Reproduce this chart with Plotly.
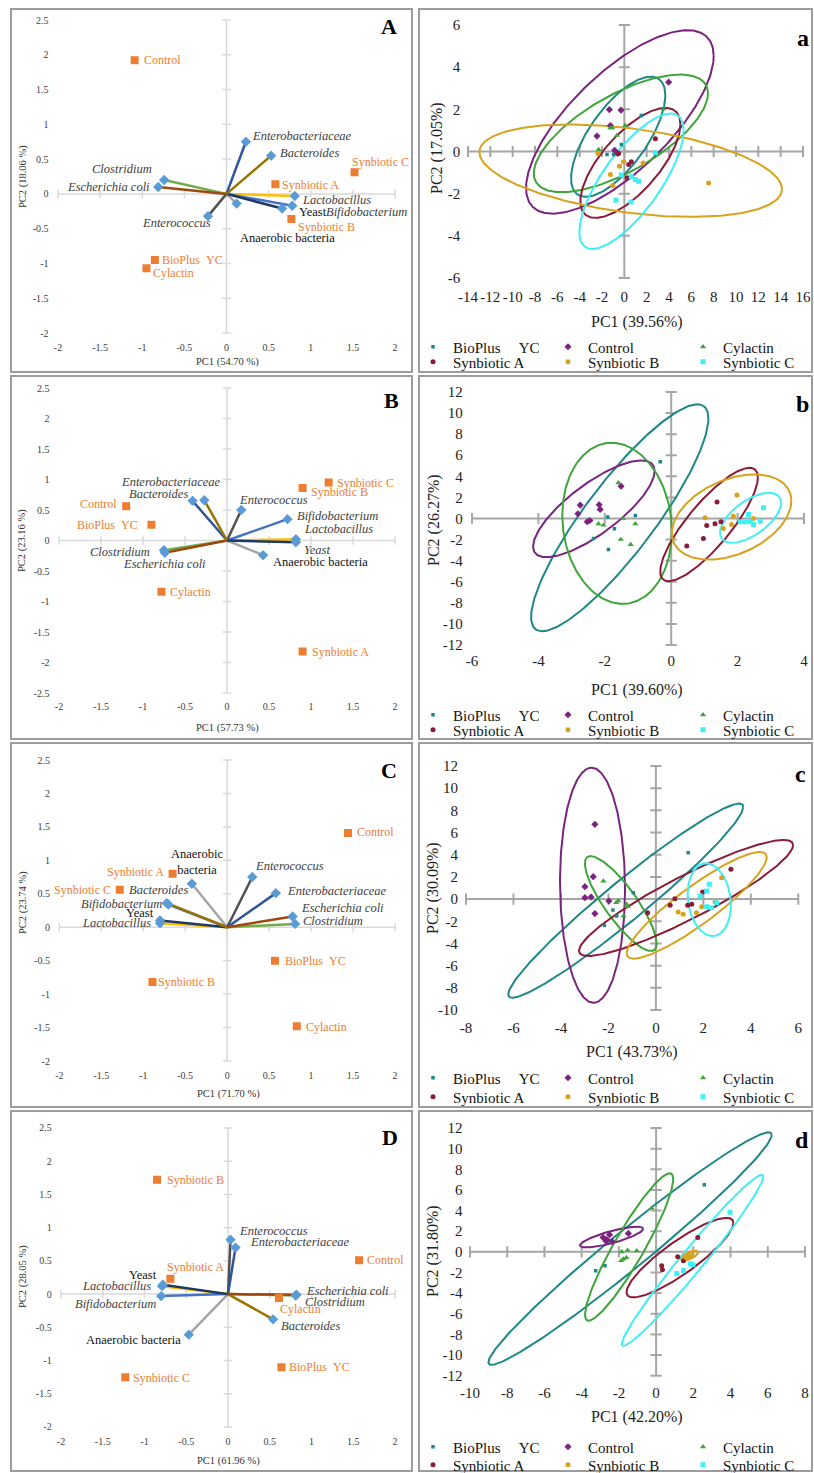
import numpy as np
import plotly.graph_objects as go

FONT = "Liberation Serif"
FIG_W, FIG_H = 814, 1473

# ------------------------------------------------------------------ data
TREATMENTS = ["BioPlus YC", "Control", "Cylactin", "Synbiotic A", "Synbiotic B", "Synbiotic C"]
VARIABLES = ["Anaerobic bacteria", "Lactobacillus", "Bifidobacterium", "Enterococcus", "Yeast",
             "Enterobacteriaceae", "Bacteroides", "Clostridium", "Escherichia coli"]

# Biplot A
A_LOAD_X = [0.12, 0.81, 0.78, -0.22, 0.66, 0.23, 0.53, -0.74, -0.81]
A_LOAD_Y = [-0.14, -0.03, -0.17, -0.32, -0.21, 0.75, 0.55, 0.20, 0.10]
A_SCORE_X = [-0.85, -1.09, -0.95, 0.58, 0.77, 1.52]
A_SCORE_Y = [-0.95, 1.92, -1.07, 0.14, -0.36, 0.31]
# Biplot B
B_LOAD_X = [0.43, 0.82, 0.72, 0.17, 0.82, -0.41, -0.27, -0.75, -0.74]
B_LOAD_Y = [-0.24, 0.02, 0.35, 0.50, -0.03, 0.65, 0.66, -0.16, -0.20]
B_SCORE_X = [-0.90, -1.20, -0.78, 0.90, 0.90, 1.21]
B_SCORE_Y = [0.26, 0.56, -0.84, -1.82, 0.86, 0.95]
# Biplot C
C_LOAD_X = [-0.42, -0.80, -0.70, 0.30, -0.80, 0.58, -0.72, 0.81, 0.78]
C_LOAD_Y = [0.65, 0.06, 0.34, 0.75, 0.10, 0.51, 0.36, 0.05, 0.16]
C_SCORE_X = [0.57, 1.44, 0.83, -0.65, -0.89, -1.28]
C_SCORE_Y = [-0.50, 1.41, -1.48, 0.80, -0.82, 0.56]
# Biplot D
D_LOAD_X = [-0.47, -0.79, -0.80, 0.03, -0.78, 0.09, 0.54, 0.81, 0.82]
D_LOAD_Y = [-0.61, 0.12, -0.03, 0.82, 0.14, 0.70, -0.38, -0.02, -0.01]
D_SCORE_X = [0.64, 1.57, 0.61, -0.69, -0.85, -1.23]
D_SCORE_Y = [-1.10, 0.51, -0.06, 0.23, 1.72, -1.25]

LEFT_PC1 = ["54.70", "57.73", "71.70", "61.96"]
LEFT_PC2 = ["18.06", "23.16", "23.74", "28.05"]
RIGHT_PC1 = ["39.56", "39.60", "43.73", "42.20"]
RIGHT_PC2 = ["17.05", "26.27", "30.09", "31.80"]

LEFT_XTICKS = [-2, -1.5, -1, -0.5, 0, 0.5, 1, 1.5, 2]
A_YTICKS = [-2, -1.5, -1, -0.5, 0, 0.5, 1, 1.5, 2, 2.5]
B_YTICKS = [-2.5, -2, -1.5, -1, -0.5, 0, 0.5, 1, 1.5, 2, 2.5]
C_YTICKS = [-2, -1.5, -1, -0.5, 0, 0.5, 1, 1.5, 2, 2.5]
D_YTICKS = [-2, -1.5, -1, -0.5, 0, 0.5, 1, 1.5, 2, 2.5]

# Score plot a
a_X = [[-0.27, -0.96, -1.55, 1.52, -0.39],
       [-1.34, -0.30, -1.25, -2.45, -0.87, -0.60, 3.97],
       [-1.25, -1.10, 0.09, -0.66, -2.30, 3.52],
       [-0.51, 0.63, 0.24, 2.78, 0.39],
       [-2.36, -0.45, -0.06, -1.25, -1.04, 1.67, 7.55],
       [2.78, -0.27, 0.63, 0.99, 1.28, -0.75, 0.60]]
a_Y = [[0.33, -0.14, -0.14, 1.71, -0.70],
       [1.99, 1.96, 1.23, 0.73, 0.06, -0.09, 3.29],
       [1.12, 1.12, 1.23, 0.76, 0.09, 2.02],
       [-0.09, -0.49, -1.25, 0.60, -0.62],
       [-0.09, -0.70, -0.49, -1.09, -1.61, -0.54, -1.49],
       [-0.06, -1.12, -1.20, -1.33, -1.41, -2.31, -2.40]]
a_ELL_CX = [-0.55, -0.40, -0.31, 0.54, 0.57, 0.64]
a_ELL_CY = [0.70, 1.40, 0.86, -0.54, -0.91, -1.41]
a_ELL_W = [4.22, 8.40, 7.80, 4.48, 13.55, 4.67]
a_ELL_H = [2.85, 4.35, 2.79, 2.61, 2.19, 3.21]
a_ELL_R = [0.69, 0.72, 0.68, 0.70, -0.40, 0.75]
a_XTICKS = [-14, -12, -10, -8, -6, -4, -2, 0, 2, 4, 6, 8, 10, 12, 14, 16]
a_YTICKS = [-6, -4, -2, 0, 2, 4, 6]

# Score plot b
b_X = [[-0.33, -1.91, -1.08, -1.71, -2.34, -1.89],
       [-2.74, -2.81, -2.53, -2.45, -2.17, -2.14, -1.51],
       [-2.19, -2.04, -1.59, -1.45, -1.08, -1.52, -1.22],
       [1.38, 1.07, 1.32, 1.50, 0.97, 0.47],
       [1.98, 1.02, 1.87, 1.82, 1.57, 2.48],
       [2.78, 2.33, 2.23, 2.48, 2.38, 2.68, 2.08]]
b_Y = [[5.38, 0.13, 0.29, -0.98, -1.90, -2.94],
       [1.27, 0.45, -0.31, -0.19, 1.30, 0.86, 3.07],
       [-0.50, -0.63, 3.39, 0.00, -0.50, -1.99, -2.47],
       [1.56, -0.66, -0.51, -0.32, -1.90, -2.62],
       [2.22, 0.06, 0.22, -0.57, -0.95, 0.00],
       [1.02, 0.38, -0.31, -0.57, -0.31, -0.25, -0.31]]
b_ELL_CX = [-1.55, -2.33, -1.63, 1.14, 1.82, 2.39]
b_ELL_CY = [0.07, 0.92, -0.46, -0.57, 0.14, 0.07]
b_ELL_W = [2.67, 1.83, 1.65, 1.47, 1.80, 0.92]
b_ELL_H = [10.76, 4.59, 7.64, 5.38, 4.04, 2.37]
b_ELL_R = [0.875, 0.78, -0.10, 0.83, 0.38, 0.60]
b_XTICKS = [-6, -4, -2, 0, 2, 4]
b_YTICKS = [-12, -10, -8, -6, -4, -2, 0, 2, 4, 6, 8, 10, 12]

# Score plot c
c_X = [[1.36, -0.95, -1.81, -2.17, -1.65],
       [-2.57, -2.64, -2.99, -2.99, -2.73, -1.98, -2.57],
       [-2.21, -1.58, -1.67, -1.19, -1.23, -1.36],
       [3.16, 1.97, 0.80, 0.60, 1.34, 1.51, -0.35],
       [2.77, 0.94, 1.15, 1.71, 1.93, 2.49],
       [2.25, 1.86, 2.14, 2.14, 2.35, 2.56]]
c_Y = [[4.18, 0.58, -0.98, -2.36, -1.52],
       [6.74, 2.02, 1.12, 0.13, 0.19, -0.17, -1.31],
       [1.63, -0.17, -0.32, -0.68, -0.47, -1.52],
       [2.69, 0.64, 0.04, -0.56, -0.56, -0.47, -1.22],
       [1.93, -1.16, -1.37, -1.22, -0.68, -0.26],
       [1.33, 0.28, 0.73, -0.68, -0.77, -0.32]]
c_ELL_CX = [-1.27, -2.67, -1.48, 1.27, 1.72, 2.25]
c_ELL_CY = [-0.14, 1.25, -0.40, 0.10, -0.56, -0.05]
c_ELL_W = [4.95, 1.37, 1.51, 4.51, 2.95, 0.91]
c_ELL_H = [8.75, 10.60, 4.28, 5.23, 4.81, 3.28]
c_ELL_R = [0.965, -0.03, -0.84, 0.91, 0.90, -0.15]
c_XTICKS = [-8, -6, -4, -2, 0, 2, 4, 6]
c_YTICKS = [-10, -8, -6, -4, -2, 0, 2, 4, 6, 8, 10, 12]

# Score plot d
d_X = [[2.59, -3.25, -2.75],
       [-2.85, -2.65, -2.50, -2.35, -1.49, -2.70],
       [-0.24, -1.85, -1.53, -1.04, -1.76, -1.88, -1.60],
       [2.24, 0.30, 0.34, 1.16, 1.47],
       [1.55, 1.73, 1.94, 1.64, 1.87],
       [3.97, 1.84, 1.47, 1.11, 1.98]]
d_Y = [[6.50, -1.83, -1.35],
       [1.40, 1.20, 1.66, 0.98, 1.79, 1.05],
       [4.24, 0.00, 0.16, 0.10, -0.70, -0.86, -0.55],
       [1.40, -1.35, -1.73, -0.47, -0.86],
       [-0.37, -0.27, -0.05, -0.60, -0.47],
       [3.83, -1.18, -1.80, -2.09, -1.25]]
d_ELL_CX = [-1.40, -2.39, -1.45, 1.28, 1.80, 1.96]
d_ELL_CY = [0.32, 1.43, 0.47, -0.56, -0.38, -0.82]
d_ELL_W = [7.61, 1.70, 2.37, 2.87, 0.46, 3.80]
d_ELL_H = [11.26, 1.00, 7.14, 3.85, 0.48, 8.29]
d_ELL_R = [0.978, 0.80, 0.92, 0.87, 0.70, 0.978]
d_XTICKS = [-10, -8, -6, -4, -2, 0, 2, 4, 6, 8]
d_YTICKS = [-12, -10, -8, -6, -4, -2, 0, 2, 4, 6, 8, 10, 12]

# ------------------------------------------------------------------ styles
VAR_COLORS = ["#A5A5A5", "#FFC000", "#4472C4", "#505050", "#203864",
              "#2F5597", "#997300", "#70AD47", "#9E480E"]
LOAD_MARKER = "#5B9BD5"
SCORE_COLOR = "#ED7D31"
GROUP_COLORS = ["#1E8787", "#7A237F", "#3DA53A", "#8B1B36", "#D7A21E", "#3EEFF4"]
GROUP_SYMBOLS = ["square", "diamond", "triangle-up", "circle", "circle", "square"]
GROUP_SIZES = [3.5, 5.5, 5.5, 5, 5, 5]
LEFT_NAMES = ["BioPlus\u00a0\u00a0YC", "Control", "Cylactin", "Synbiotic A", "Synbiotic B", "Synbiotic C"]
LEGEND_NAMES = ["BioPlus\u00a0\u00a0\u00a0\u00a0 YC", "Control", "Cylactin",
                "Synbiotic A", "Synbiotic B", "Synbiotic C"]

# label placement (anchor, x-shift px, y-shift px) in VARIABLES / TREATMENTS order
A_LOAD_POS = [("left", 1, -34), ("left", 5, -4), ("left", 32, -6), ("center", -31, -7), ("left", 15, -4),
              ("left", 4, 6), ("left", 7, 3), ("right", -10, 11), ("right", -6, 0)]
A_SCORE_POS = [("left", 5, 0), ("left", 7, 0), ("left", 5, -5), ("left", 5, -1), ("left", 5, -8), ("left", -5, 10)]
B_LOAD_POS = [("left", 8, -7), ("left", 6, 10), ("left", 8, 3), ("left", -4, 10), ("left", 6, -8),
              ("center", -22, 19), ("right", -14, 6), ("right", -12, -2), ("center", 0, -11)]
B_SCORE_POS = [("right", -11, 0), ("right", -7, 2), ("left", 7, 0), ("left", 7, 0), ("left", 6, -4), ("left", 6, 0)]
C_LOAD_POS = [("center", 6, 22), ("right", -7, 0), ("right", -4, 0), ("left", 1, 11), ("center", -20, 8),
              ("left", 9, 2), ("left", -40, 13), ("left", 6, 3), ("left", 6, 9)]
C_SCORE_POS = [("left", 8, 0), ("left", 7, 1), ("left", 7, -1), ("right", -7, 2), ("left", 4, 0), ("right", -7, 0)]
D_LOAD_POS = [("right", -6, -5), ("right", -9, 0), ("right", -3, -8), ("left", 6, 9), ("center", -20, 10),
              ("left", 12, 6), ("left", 6, -7), ("left", 7, -7), ("left", 8, 4)]
D_SCORE_POS = [("left", 6, 0), ("left", 6, 0), ("left", -1, -11), ("left", -5, 12), ("left", 8, 0), ("left", 6, -1)]

T = np.linspace(0, 2 * np.pi, 241)


def ellipse_xy(cx, cy, w, h, r):
    ex = cx + w * np.cos(T)
    ey = cy + r * h * np.cos(T) + h * np.sqrt(1 - r * r) * np.sin(T)
    return ex, ey


def fmt(v):
    return f"{v:g}"


def sx(n):
    return "" if n == 1 else str(n)


def dom_x(rng, v0, p0, v1, p1):
    s = (p1 - p0) / (v1 - v0)
    return [(p0 + (rng[0] - v0) * s) / FIG_W, (p0 + (rng[1] - v0) * s) / FIG_W]


def dom_y(rng, v0, p0, v1, p1):
    s = (p1 - p0) / (v1 - v0)
    return [1 - (p0 + (rng[0] - v0) * s) / FIG_H, 1 - (p0 + (rng[1] - v0) * s) / FIG_H]


def px(x):
    return x / FIG_W


def py(y):
    return 1 - y / FIG_H


fig = go.Figure()
annotations = []
shapes = []
layout = {}


def add_axes(n, xt, yt, color, width, ticksize):
    xa, ya = "x" + sx(n), "y" + sx(n)
    fig.add_trace(go.Scatter(x=[xt[0], xt[-1]], y=[0, 0], mode="lines", line=dict(color=color, width=width),
                             xaxis=xa, yaxis=ya, showlegend=False, hoverinfo="skip"))
    fig.add_trace(go.Scatter(x=[0, 0], y=[yt[0], yt[-1]], mode="lines", line=dict(color=color, width=width),
                             xaxis=xa, yaxis=ya, showlegend=False, hoverinfo="skip"))
    fig.add_trace(go.Scatter(x=xt, y=[0] * len(xt), mode="markers",
                             marker=dict(symbol="line-ns", size=ticksize, line=dict(color=color, width=width)),
                             xaxis=xa, yaxis=ya, showlegend=False, hoverinfo="skip"))
    fig.add_trace(go.Scatter(x=[0] * len(yt), y=yt, mode="markers",
                             marker=dict(symbol="line-ew", size=ticksize, line=dict(color=color, width=width)),
                             xaxis=xa, yaxis=ya, showlegend=False, hoverinfo="skip"))


def set_axes(n, xdom, ydom, xr, yr, xt, yt, fsize, fcolor):
    layout["xaxis" + sx(n)] = dict(domain=xdom, range=xr, anchor="y" + sx(n), tickmode="array",
                                   tickvals=xt, ticktext=[fmt(v) for v in xt], showgrid=False,
                                   zeroline=False, showline=False, ticks="", fixedrange=True,
                                   tickfont=dict(family=FONT, size=fsize, color=fcolor))
    layout["yaxis" + sx(n)] = dict(domain=ydom, range=yr, anchor="x" + sx(n), tickmode="array",
                                   tickvals=yt, ticktext=[fmt(v) for v in yt], showgrid=False,
                                   zeroline=False, showline=False, ticks="", fixedrange=True,
                                   tickfont=dict(family=FONT, size=fsize, color=fcolor))


# ------------------------------------------------------------------ biplots
LEFT_PANELS = [
    dict(n=1, letter="A", lx=A_LOAD_X, ly=A_LOAD_Y, sxv=A_SCORE_X, syv=A_SCORE_Y, yt=A_YTICKS,
         lpos=A_LOAD_POS, spos=A_SCORE_POS, upright={"Yeast", "Anaerobic bacteria"},
         xcal=(-2, 58, 2, 395), ycal=(2.5, 20, -2, 333), yr=(-2.1, 2.6),
         letter_px=(389, 27), pc1_px=(227, 362), pc2_px=(23, 177)),
    dict(n=3, letter="B", lx=B_LOAD_X, ly=B_LOAD_Y, sxv=B_SCORE_X, syv=B_SCORE_Y, yt=B_YTICKS,
         lpos=B_LOAD_POS, spos=B_SCORE_POS, upright={"Anaerobic bacteria"},
         xcal=(-2, 59, 2, 395), ycal=(2.5, 388, -2.5, 693), yr=(-2.6, 2.6),
         letter_px=(391, 400), pc1_px=(227, 728), pc2_px=(22, 541)),
    dict(n=5, letter="C", lx=C_LOAD_X, ly=C_LOAD_Y, sxv=C_SCORE_X, syv=C_SCORE_Y, yt=C_YTICKS,
         lpos=C_LOAD_POS, spos=C_SCORE_POS, upright={"Yeast", "Anaerobic bacteria"},
         xcal=(-2, 59.3, 2, 395), ycal=(2.5, 760, -2, 1061), yr=(-2.1, 2.6),
         letter_px=(389, 770), pc1_px=(228, 1094), pc2_px=(23, 903)),
    dict(n=7, letter="D", lx=D_LOAD_X, ly=D_LOAD_Y, sxv=D_SCORE_X, syv=D_SCORE_Y, yt=D_YTICKS,
         lpos=D_LOAD_POS, spos=D_SCORE_POS, upright={"Yeast", "Anaerobic bacteria"},
         xcal=(-2, 61, 2, 395), ycal=(2.5, 1128, -2, 1427), yr=(-2.1, 2.6),
         letter_px=(390, 1137), pc1_px=(228, 1461), pc2_px=(23, 1277)),
]

for k, P in enumerate(LEFT_PANELS):
    n = P["n"]
    xa, ya = "x" + sx(n), "y" + sx(n)
    xr = (-2.1, 2.1)
    set_axes(n, dom_x(xr, *P["xcal"]), dom_y(P["yr"], *P["ycal"]), xr, P["yr"],
             LEFT_XTICKS, P["yt"], 10, "#404040")
    add_axes(n, LEFT_XTICKS, P["yt"], "#D9D9D9", 1.5, 6)
    for i, v in enumerate(VARIABLES):
        fig.add_trace(go.Scatter(x=[0, P["lx"][i]], y=[0, P["ly"][i]], mode="lines",
                                 line=dict(color=VAR_COLORS[i], width=2.5), xaxis=xa, yaxis=ya,
                                 showlegend=False, hoverinfo="skip"))
    fig.add_trace(go.Scatter(x=P["lx"], y=P["ly"], mode="markers",
                             marker=dict(symbol="diamond", size=8, color=LOAD_MARKER),
                             xaxis=xa, yaxis=ya, showlegend=False, hoverinfo="skip"))
    fig.add_trace(go.Scatter(x=P["sxv"], y=P["syv"], mode="markers",
                             marker=dict(symbol="square", size=8, color=SCORE_COLOR),
                             xaxis=xa, yaxis=ya, showlegend=False, hoverinfo="skip"))
    for i, v in enumerate(VARIABLES):
        anc, dx, dy = P["lpos"][i]
        if v in P["upright"]:
            txt = "Anaerobic<br>bacteria" if (v == "Anaerobic bacteria" and n == 5) else v
            col = "#111111"
        else:
            txt = "<i>" + v + "</i>"
            col = "#404040"
        annotations.append(dict(x=P["lx"][i], y=P["ly"][i], xref=xa, yref=ya, text=txt, showarrow=False,
                                xanchor=anc, yanchor="middle", xshift=dx, yshift=dy,
                                font=dict(family=FONT, size=12.5, color=col)))
    for i, t in enumerate(TREATMENTS):
        anc, dx, dy = P["spos"][i]
        annotations.append(dict(x=P["sxv"][i], y=P["syv"][i], xref=xa, yref=ya, text=LEFT_NAMES[i],
                                showarrow=False, xanchor=anc, yanchor="middle", xshift=dx, yshift=dy,
                                font=dict(family=FONT, size=12, color=SCORE_COLOR)))
    annotations.append(dict(x=px(P["letter_px"][0]), y=py(P["letter_px"][1]), xref="paper", yref="paper",
                            text="<b>" + P["letter"] + "</b>", showarrow=False, xanchor="center",
                            yanchor="middle", font=dict(family=FONT, size=22, color="#000")))
    annotations.append(dict(x=px(P["pc1_px"][0]), y=py(P["pc1_px"][1]), xref="paper", yref="paper",
                            text="PC1 (" + LEFT_PC1[k] + " %)", showarrow=False, xanchor="center",
                            yanchor="middle", font=dict(family=FONT, size=10.5, color="#333")))
    annotations.append(dict(x=px(P["pc2_px"][0]), y=py(P["pc2_px"][1]), xref="paper", yref="paper",
                            text="PC2 (" + LEFT_PC2[k] + " %)", showarrow=False, xanchor="center",
                            yanchor="middle", textangle=-90, font=dict(family=FONT, size=10.5, color="#333")))

# ------------------------------------------------------------------ score plots
RIGHT_PANELS = [
    dict(n=2, letter="a", X=a_X, Y=a_Y, ell=(a_ELL_CX, a_ELL_CY, a_ELL_W, a_ELL_H, a_ELL_R),
         xt=a_XTICKS, yt=a_YTICKS, xcal=(-14, 468, 16, 803), ycal=(6, 25, -6, 278),
         xr=(-14.6, 16.6), yr=(-6.4, 6.5), letter_px=(803, 38), pc1_px=(637, 322), pc2_px=(437, 148),
         leg=("legend", "legend2"), leg_y=(347, 362)),
    dict(n=4, letter="b", X=b_X, Y=b_Y, ell=(b_ELL_CX, b_ELL_CY, b_ELL_W, b_ELL_H, b_ELL_R),
         xt=b_XTICKS, yt=b_YTICKS, xcal=(-6, 472, 4, 804), ycal=(12, 392, -12, 645),
         xr=(-6.25, 4.25), yr=(-12.5, 12.6), letter_px=(802, 404), pc1_px=(637, 690), pc2_px=(434, 520),
         leg=("legend3", "legend4"), leg_y=(715, 730)),
    dict(n=6, letter="c", X=c_X, Y=c_Y, ell=(c_ELL_CX, c_ELL_CY, c_ELL_W, c_ELL_H, c_ELL_R),
         xt=c_XTICKS, yt=c_YTICKS, xcal=(-8, 466, 6, 798.3), ycal=(12, 766, -10, 1010),
         xr=(-8.3, 6.3), yr=(-10.6, 12.6), letter_px=(800, 774), pc1_px=(632, 1052), pc2_px=(433, 888),
         leg=("legend5", "legend6"), leg_y=(1078, 1097)),
    dict(n=8, letter="d", X=d_X, Y=d_Y, ell=(d_ELL_CX, d_ELL_CY, d_ELL_W, d_ELL_H, d_ELL_R),
         xt=d_XTICKS, yt=d_YTICKS, xcal=(-10, 470, 8, 805), ycal=(12, 1128, -12, 1375.7),
         xr=(-10.35, 8.3), yr=(-12.6, 12.6), letter_px=(802, 1140), pc1_px=(637, 1417), pc2_px=(433, 1251),
         leg=("legend7", "legend8"), leg_y=(1447, 1465)),
]

for k, P in enumerate(RIGHT_PANELS):
    n = P["n"]
    xa, ya = "x" + sx(n), "y" + sx(n)
    set_axes(n, dom_x(P["xr"], *P["xcal"]), dom_y(P["yr"], *P["ycal"]), P["xr"], P["yr"],
             P["xt"], P["yt"], 15, "#222")
    add_axes(n, P["xt"], P["yt"], "#A6A6A6", 2, 8)
    cx, cy, ew, eh, er = P["ell"]
    for g in range(len(TREATMENTS)):
        ex, ey = ellipse_xy(cx[g], cy[g], ew[g], eh[g], er[g])
        fig.add_trace(go.Scatter(x=ex, y=ey, mode="lines", line=dict(color=GROUP_COLORS[g], width=2),
                                 xaxis=xa, yaxis=ya, showlegend=False, hoverinfo="skip"))
    for g in range(len(TREATMENTS)):
        fig.add_trace(go.Scatter(x=P["X"][g], y=P["Y"][g], mode="markers", name=LEGEND_NAMES[g],
                                 marker=dict(symbol=GROUP_SYMBOLS[g], size=GROUP_SIZES[g], color=GROUP_COLORS[g]),
                                 xaxis=xa, yaxis=ya, showlegend=True,
                                 legend=P["leg"][0] if g < 3 else P["leg"][1]))
    for r in range(2):
        layout[P["leg"][r]] = dict(orientation="h", x=px(413), y=py(P["leg_y"][r]), xanchor="left",
                                   yanchor="middle", entrywidth=90, entrywidthmode="pixels",
                                   font=dict(family=FONT, size=15, color="#111"), bgcolor="rgba(0,0,0,0)",
                                   borderwidth=0, itemwidth=30, tracegroupgap=0, traceorder="normal")
    annotations.append(dict(x=px(P["letter_px"][0]), y=py(P["letter_px"][1]), xref="paper", yref="paper",
                            text="<b>" + P["letter"] + "</b>", showarrow=False, xanchor="center",
                            yanchor="middle", font=dict(family=FONT, size=24, color="#000")))
    annotations.append(dict(x=px(P["pc1_px"][0]), y=py(P["pc1_px"][1]), xref="paper", yref="paper",
                            text="PC1 (" + RIGHT_PC1[k] + "%)", showarrow=False, xanchor="center",
                            yanchor="middle", font=dict(family=FONT, size=16, color="#222")))
    annotations.append(dict(x=px(P["pc2_px"][0]), y=py(P["pc2_px"][1]), xref="paper", yref="paper",
                            text="PC2 (" + RIGHT_PC2[k] + "%)", showarrow=False, xanchor="center",
                            yanchor="middle", textangle=-90, font=dict(family=FONT, size=16, color="#222")))

# ------------------------------------------------------------------ panel borders
ROWS = [(9, 372), (376, 739), (743, 1107), (1111, 1471)]
COLS = [(11, 412), (419, 812)]
for (t, b) in ROWS:
    for (l, r) in COLS:
        shapes.append(dict(type="rect", xref="paper", yref="paper", x0=px(l), x1=px(r), y0=py(b), y1=py(t),
                           line=dict(color="#9C9C9C", width=2), layer="below"))

layout.update(dict(width=FIG_W, height=FIG_H, margin=dict(l=0, r=0, t=0, b=0, autoexpand=False),
                   paper_bgcolor="white", plot_bgcolor="rgba(0,0,0,0)", showlegend=True,
                   annotations=annotations, shapes=shapes, font=dict(family=FONT)))
fig.update_layout(**layout)
fig.write_html("out.html", config={"displayModeBar": False},
               post_script="document.body.style.margin='0px';document.body.style.overflow='hidden';")
